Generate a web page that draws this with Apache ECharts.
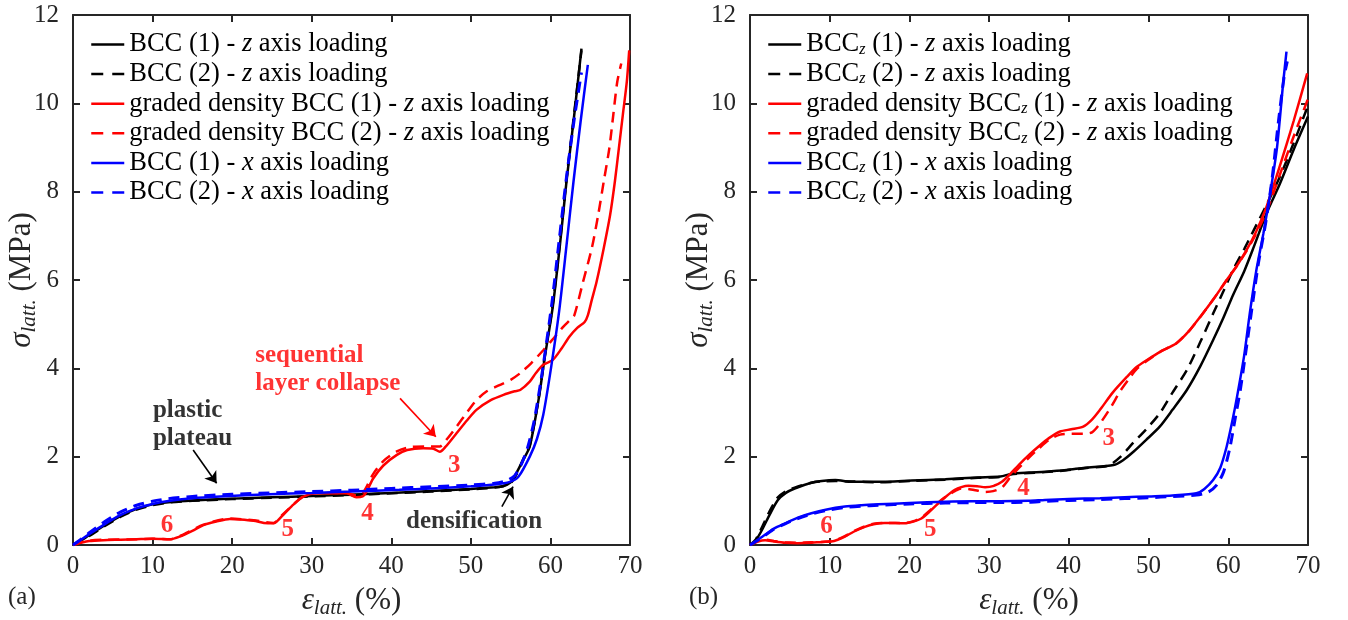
<!DOCTYPE html>
<html><head><meta charset="utf-8">
<script src="https://cdn.jsdelivr.net/npm/echarts@6/dist/echarts.min.js"></script>
<style>html,body{margin:0;padding:0;background:#fff}#c{width:1348px;height:620px}</style>
</head><body><div id="c"></div>
<script>
// ---------- DATA (strain %, stress MPa) ----------
const legendA = ['BCC (1) - z axis loading','BCC (2) - z axis loading','graded density BCC (1) - z axis loading','graded density BCC (2) - z axis loading','BCC (1) - x axis loading','BCC (2) - x axis loading'];
const legendB = ['BCC_z (1) - z axis loading','BCC_z (2) - z axis loading','graded density BCC_z (1) - z axis loading','graded density BCC_z (2) - z axis loading','BCC_z (1) - x axis loading','BCC_z (2) - x axis loading'];

// panel (a)
const aBccZ1 = [[0,0],[1,0.1],[2,0.22],[4,0.45],[6,0.66],[8,0.82],[10,0.92],[12,0.97],[15,1.01],[20,1.05],[25,1.08],[30,1.11],[35,1.14],[40,1.18],[45,1.22],[50,1.27],[53,1.31],[54,1.33],[55,1.42],[55.7,1.62],[56.5,1.9],[57.4,2.23],[58.5,3.28],[59.3,4.26],[60.3,5.4],[61.2,6.8],[62,8.2],[63,9.75],[63.9,11.24]];
const aBccZ2 = [[0,0],[1,0.1],[2,0.2],[4,0.43],[6,0.64],[8,0.8],[10,0.9],[12,0.96],[15,1.0],[20,1.04],[25,1.07],[30,1.1],[35,1.13],[40,1.17],[45,1.21],[50,1.26],[53,1.3],[54,1.33],[55,1.4],[55.8,1.62],[56.6,1.95],[57.4,2.25],[58.5,3.3],[59.3,4.3],[60.3,5.45],[61.2,6.85],[62,8.25],[63,9.8],[63.9,11.2]];
const aGrZ1 = [[0,0],[1,0.05],[2,0.09],[3.8,0.11],[6,0.12],[8,0.13],[10,0.14],[12.2,0.13],[13.4,0.19],[15,0.32],[16.4,0.45],[18,0.53],[19.7,0.59],[21,0.58],[22.7,0.55],[24,0.5],[25.2,0.49],[26.4,0.68],[27.5,0.88],[28.9,1.09],[30.6,1.17],[32.5,1.17],[34.4,1.17],[35.6,1.08],[36.4,1.1],[36.9,1.21],[37.7,1.5],[39,1.8],[40.7,2.04],[42,2.15],[44,2.19],[45.3,2.18],[46.1,2.11],[46.8,2.22],[48.2,2.53],[49.5,2.82],[50.7,3.06],[52.5,3.28],[54.1,3.4],[55.5,3.48],[56.2,3.51],[57.4,3.7],[58.2,3.9],[59.1,4.08],[60.3,4.19],[61.4,4.45],[62.4,4.72],[63.4,4.92],[64.3,5.05],[64.7,5.2],[65.2,5.55],[65.8,5.96],[66.7,6.72],[67.5,7.47],[68.1,8.23],[68.6,8.98],[69.1,9.74],[69.6,10.49],[69.9,11.2]];
const aGrZ2 = [[0,0],[1,0.06],[2,0.1],[4,0.12],[8,0.13],[10,0.14],[12.2,0.13],[13.4,0.2],[16.4,0.46],[19.7,0.6],[22.7,0.56],[25.2,0.5],[26.4,0.7],[28.9,1.1],[30.6,1.18],[34.4,1.18],[35.6,1.12],[36.5,1.2],[37.7,1.6],[39,1.9],[40.7,2.12],[42.5,2.22],[44.4,2.23],[46.1,2.23],[47,2.4],[48.2,2.68],[49.5,3.0],[50.7,3.28],[52,3.48],[53.6,3.62],[55,3.74],[56.2,3.89],[57.6,4.12],[59.1,4.41],[60.4,4.68],[61.6,4.94],[62.5,5.1],[63.0,5.2],[64.1,5.96],[65.2,6.72],[66.0,7.47],[66.7,8.23],[67.4,8.98],[67.9,9.74],[68.4,10.49],[68.9,10.9]];
const aBccX1 = [[0,0],[1,0.12],[2,0.24],[3.8,0.45],[6,0.68],[8,0.83],[10,0.93],[12.2,1.0],[15,1.06],[18.5,1.1],[24.7,1.15],[30,1.18],[35,1.21],[41,1.25],[45,1.28],[50,1.33],[53,1.37],[54.9,1.43],[56,1.55],[57.4,2.0],[58.3,2.4],[59.1,2.95],[60.1,4.04],[61.1,5.3],[62,6.75],[62.9,8.23],[63.8,9.6],[64.7,10.87]];
const aBccX2 = [[0,0],[1,0.13],[2,0.27],[4,0.53],[6,0.75],[8,0.9],[10,0.99],[12,1.05],[15,1.1],[20,1.15],[25,1.18],[30,1.21],[35,1.24],[40,1.28],[45,1.32],[50,1.36],[53,1.4],[54.5,1.46],[55.5,1.57],[56.4,1.85],[57.2,2.25],[58,2.85],[59,3.95],[60.2,5.5],[61.1,6.9],[62,8.3],[63,9.65],[63.9,10.7]];

// panel (b)
const bBccZ1 = [[0,0],[0.7,0.1],[1.5,0.34],[2.5,0.7],[3.5,1.02],[4.5,1.18],[5.6,1.28],[7.7,1.41],[9,1.45],[10.7,1.47],[12.8,1.43],[16.1,1.43],[20.3,1.46],[24.5,1.49],[28.6,1.53],[31.4,1.55],[32.8,1.61],[35,1.64],[37,1.66],[39.7,1.7],[42,1.75],[45.6,1.81],[46.8,1.92],[48.1,2.11],[49.7,2.38],[51.4,2.68],[53,3.06],[54.8,3.51],[56.5,4.05],[58.1,4.64],[59.4,5.15],[60.6,5.66],[62,6.2],[63.2,6.75],[64.8,7.51],[66.5,8.19],[68.2,8.95],[70,9.7]];
const bBccZ2 = [[0,0],[0.7,0.12],[1.5,0.4],[2.5,0.78],[3.5,1.08],[4.5,1.22],[5.6,1.3],[7.7,1.41],[9,1.44],[10.7,1.45],[12.8,1.44],[16.1,1.42],[20.3,1.45],[24.5,1.48],[28.6,1.52],[31.4,1.54],[32.8,1.6],[35,1.63],[37,1.65],[39.7,1.69],[42,1.74],[45,1.8],[46.5,2.0],[48,2.3],[49.7,2.62],[51.4,2.98],[53,3.45],[54.8,3.96],[56.5,4.6],[58.1,5.24],[59.4,5.75],[60.6,6.23],[62,6.7],[63.2,7.13],[64.8,7.7],[66.5,8.35],[68.2,9.1],[70,9.95]];
const bGrZ1 = [[0,0],[1,0.08],[1.9,0.11],[3,0.08],[4.4,0.05],[6,0.04],[7.7,0.05],[9,0.07],[10.2,0.08],[11,0.12],[11.9,0.19],[13,0.3],[14.4,0.41],[15.5,0.47],[16.9,0.5],[18.2,0.5],[19.4,0.49],[20.5,0.53],[21.5,0.6],[22.5,0.75],[23.6,0.94],[24.6,1.1],[25.7,1.25],[26.5,1.31],[27.4,1.34],[28.5,1.33],[29.5,1.31],[30.6,1.34],[31.6,1.43],[32.6,1.6],[33.7,1.81],[35,2.04],[36.2,2.23],[37.5,2.42],[38.9,2.57],[40.3,2.62],[41.8,2.68],[42.9,2.84],[43.9,3.06],[45.5,3.45],[47.3,3.81],[48.5,4.03],[49.8,4.19],[51.5,4.38],[53.5,4.57],[55,4.83],[56.5,5.17],[58.2,5.58],[59.8,6.0],[61,6.3],[62.3,6.68],[63.5,7.1],[64.8,7.66],[66.5,8.6],[68.2,9.6],[69.9,10.68]];
const bGrZ2 = [[0,0],[1,0.09],[1.9,0.12],[3,0.09],[4.4,0.06],[6,0.05],[7.7,0.06],[9,0.07],[10.2,0.09],[11,0.13],[11.9,0.2],[13,0.31],[14.4,0.42],[15.5,0.48],[16.9,0.5],[18.2,0.5],[19.4,0.5],[20.5,0.54],[21.5,0.62],[22.5,0.77],[23.6,0.96],[24.6,1.1],[25.7,1.22],[26.5,1.28],[27.4,1.27],[28.6,1.23],[29.5,1.2],[30.5,1.22],[31.6,1.3],[32.6,1.52],[33.7,1.74],[35,1.98],[36.2,2.18],[37.5,2.38],[38.9,2.5],[40.3,2.52],[41.8,2.52],[42.9,2.55],[43.9,2.75],[45.2,3.1],[46.5,3.5],[47.5,3.75],[48.5,3.98],[49.8,4.17],[51.5,4.38],[53.5,4.57],[55,4.83],[56.5,5.17],[58.2,5.58],[59.8,6.0],[61,6.3],[62.3,6.66],[63.5,7.05],[64.8,7.55],[66.5,8.4],[68.2,9.25],[70,10.1]];
const bBccX1 = [[0,0],[1,0.12],[1.9,0.23],[3,0.37],[4.4,0.49],[6,0.62],[7.7,0.72],[9.5,0.8],[11.9,0.87],[14,0.9],[16.1,0.92],[20,0.95],[24.5,0.98],[28,0.99],[31.4,0.99],[35,1.0],[37,1.02],[40,1.04],[43.9,1.06],[47,1.08],[50,1.1],[53,1.12],[56,1.17],[57,1.27],[58.1,1.47],[59,1.75],[59.8,2.23],[60.5,2.8],[61.1,3.36],[62,4.3],[62.7,5.25],[63.5,6.2],[64.4,7.05],[65.2,7.9],[66.1,8.98],[66.9,10.49],[67.3,11.17]];
const bBccX2 = [[0,0],[1,0.11],[1.9,0.22],[3,0.36],[4.4,0.48],[6,0.6],[7.7,0.7],[9.5,0.78],[11.9,0.85],[14,0.88],[16.1,0.9],[20,0.93],[24.5,0.95],[28,0.96],[31.4,0.96],[35,0.97],[37,0.99],[40,1.01],[43.9,1.03],[47,1.05],[50,1.07],[53,1.1],[56,1.13],[57.5,1.2],[58.5,1.35],[59.4,1.65],[60.2,2.2],[60.9,2.9],[61.5,3.5],[62.3,4.5],[63,5.4],[63.8,6.4],[64.7,7.3],[65.5,8.3],[66.3,9.6],[67,10.6],[67.4,10.95]];

// annotations (text, anchor in data units)
const notesAText = ['plastic\nplateau','sequential\nlayer collapse','densification','3','4','5','6'];
const notesAPos = [[10.05,2.72],[22.9,3.97],[50.4,0.53],[47.9,1.81],[37.0,0.72],[27.0,0.34],[11.8,0.43]];
const notesBText = ['3','4','5','6'];
const notesBPos = [[45.0,2.42],[34.3,1.28],[22.6,0.34],[9.6,0.41]];
const arrowsA = [[[15.1,2.15],[18.05,1.40]],[[41.1,3.32],[45.6,2.45]],[[53.9,0.87],[55.3,1.32]]];

// ---------- CHART ----------
const FF = 'Liberation Serif';
const AX = '#262626';
const BLK = '#000000', RED = '#ff0000', BLU = '#0000ff';
const DASH = [11, 7];
const DASHED = [false, true, false, true, false, true];
const COLORS = [BLK, BLK, RED, RED, BLU, BLU];

function richName(n){
  let s = n.replace('BCC_z','BCC}{s|z}{r|').replace(/ - ([xz]) axis/, ' - }{i|$1}{r| axis');
  return '{r|' + s + '}';
}
function mk(name, data, k, p){
  const color = COLORS[k];
  return {type:'line', name, data, xAxisIndex:p*2, yAxisIndex:p*2, symbol:'none', showSymbol:false,
    smooth:0.25, silent:true, animation:false,
    lineStyle:{color, width: k===5 ? 3 : 2.5, type: DASHED[k] ? DASH : 'solid'}, itemStyle:{color}};
}
function notes(texts, pos, p, colors, aligns){
  return {type:'scatter', xAxisIndex:p*2, yAxisIndex:p*2, symbolSize:0, silent:true, animation:false, z:10,
    data: texts.map((t,k)=>({value:pos[k], label:{show:true, formatter:t, position:'inside',
      align: aligns ? aligns[k] : 'center', verticalAlign:'middle', color: colors[k],
      fontFamily:FF, fontWeight:'bold', fontSize:25, lineHeight:28}}))};
}
const nameRich = {
  i:{fontStyle:'italic', fontSize:31, fontFamily:FF, color:AX, lineHeight:36},
  s:{fontStyle:'italic', fontSize:21, fontFamily:FF, color:AX, verticalAlign:'bottom', lineHeight:36},
  r:{fontSize:31, fontFamily:FF, color:AX, lineHeight:36}};
function xA(p, bottom){
  return {type:'value', gridIndex:p, position: bottom?'bottom':'top', min:0, max:70, interval:10,
    axisLine:{show:true, onZero:false, lineStyle:{color:AX, width:2}},
    axisTick:{show:true, inside:true, length:7, lineStyle:{color:AX, width:2}},
    axisLabel:{show:bottom, color:AX, fontFamily:FF, fontSize:25, margin:9},
    splitLine:{show:false},
    name: bottom ? '{i|ε}{s|latt.}{r| (%)}' : '', nameLocation:'middle', nameGap:38, nameMoveOverlap:false,
    nameTextStyle:{color:AX, fontFamily:FF, fontSize:31, rich:nameRich}};
}
function yA(p, left){
  return {type:'value', gridIndex:p, position: left?'left':'right', min:0, max:12, interval:2,
    axisLine:{show:true, onZero:false, lineStyle:{color:AX, width:2}},
    axisTick:{show:true, inside:true, length:7, lineStyle:{color:AX, width:2}},
    axisLabel:{show:left, color:AX, fontFamily:FF, fontSize:25, margin:14},
    splitLine:{show:false},
    name: left ? '{i|σ}{s|latt.}{r| (MPa)}' : '', nameLocation:'middle', nameGap:33, nameMoveOverlap:false,
    nameTextStyle:{color:AX, fontFamily:FF, fontSize:31, rich:nameRich}};
}
function legend(names, p, left){
  return {data: names.map((n,k)=>({name:n, itemStyle:{opacity:0}, lineStyle:{color:COLORS[k], width:2.5, type: DASHED[k] ? [12,9] : 'solid'}})),
    orient:'vertical', left:left, top:31, padding:0, itemWidth:33, itemHeight:26, itemGap:2.6,
    selectedMode:false, formatter:richName, itemStyle:{opacity:0},
    textStyle:{fontFamily:FF, fontSize:26.5, color:'#000', rich:{
      r:{fontFamily:FF, fontSize:26.5, color:'#000', lineHeight:26},
      i:{fontFamily:FF, fontSize:26.5, fontStyle:'italic', color:'#000', lineHeight:26},
      s:{fontFamily:FF, fontSize:16, fontStyle:'italic', color:'#000', verticalAlign:'bottom', lineHeight:26}}}};
}

const chart = echarts.init(document.getElementById('c'), null, {renderer:'canvas'});
const colorsA = [BLK, RED, BLK, RED, RED, RED, RED];
const alignsA = ['left','left','center','center','center','center','center'];
chart.setOption({
  animation:false,
  backgroundColor:'#fff',
  grid:[{left:73, top:15, width:557, height:530, outerBoundsMode:'none', containLabel:false},
        {left:750, top:15, width:558, height:530, outerBoundsMode:'none', containLabel:false}],
  xAxis:[xA(0,true), xA(0,false), xA(1,true), xA(1,false)],
  yAxis:[yA(0,true), yA(0,false), yA(1,true), yA(1,false)],
  legend:[legend(legendA,0,90), legend(legendB,1,767)],
  graphic:[
    {type:'text', left:8, top:585, style:{text:'(a)', font:'25px "Liberation Serif"', fill:AX}},
    {type:'text', left:689, top:585, style:{text:'(b)', font:'25px "Liberation Serif"', fill:AX}}
  ],
  series:[
    mk(legendA[0], aBccZ1, 0, 0),
    mk(legendA[1], aBccZ2, 1, 0),
    mk(legendA[2], aGrZ1, 2, 0),
    mk(legendA[3], aGrZ2, 3, 0),
    mk(legendA[4], aBccX1, 4, 0),
    mk(legendA[5], aBccX2, 5, 0),
    mk(legendB[0], bBccZ1, 0, 1),
    mk(legendB[1], bBccZ2, 1, 1),
    mk(legendB[2], bGrZ1, 2, 1),
    mk(legendB[3], bGrZ2, 3, 1),
    mk(legendB[4], bBccX1, 4, 1),
    mk(legendB[5], bBccX2, 5, 1),
    notes(notesAText, notesAPos, 0, colorsA, alignsA),
    notes(notesBText, notesBPos, 1, [RED,RED,RED,RED], null),
    {type:'lines', coordinateSystem:'cartesian2d', xAxisIndex:0, yAxisIndex:0, silent:true, animation:false, z:10,
     symbol:['none','arrow'], symbolSize:11,
     data: arrowsA.map((c,k)=>({coords:c, lineStyle:{color: k===1?RED:BLK, width:1.6, opacity:1}})) }
  ]
});
</script></body></html>
